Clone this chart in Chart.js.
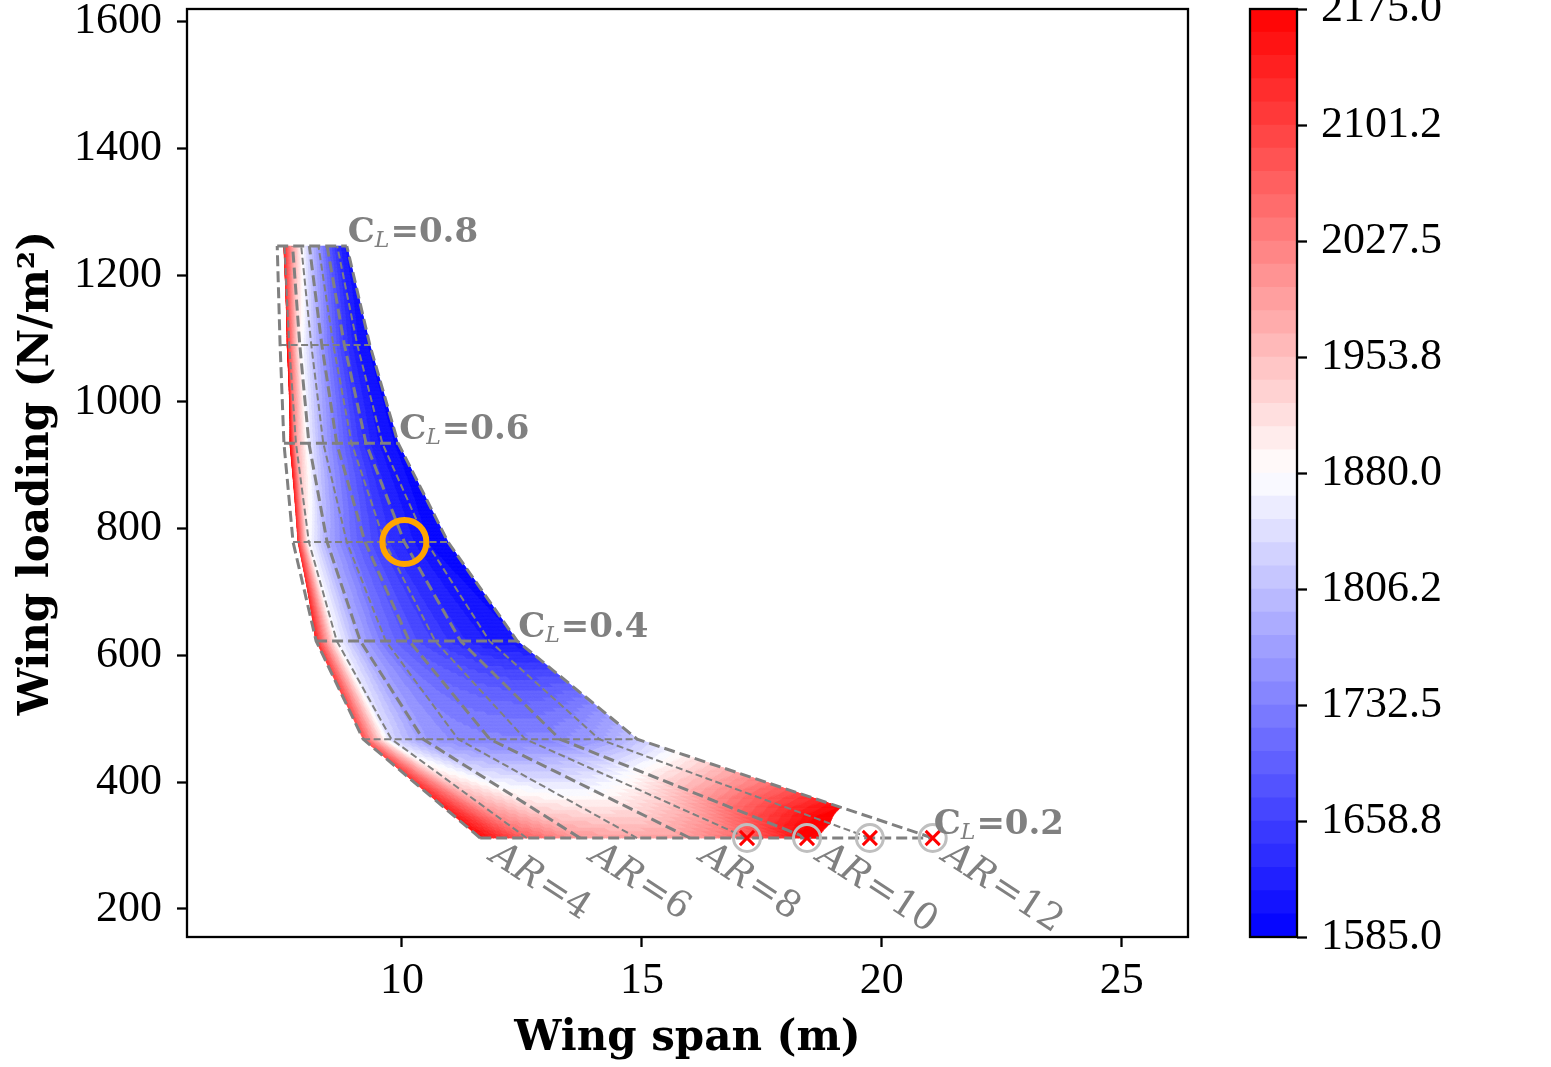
<!DOCTYPE html>
<html><head><meta charset="utf-8">
<script src="https://cdn.jsdelivr.net/npm/chart.js@4"></script>
<style>
html,body{margin:0;padding:0;background:#fff;}
#wrap{position:relative;width:1551px;height:1067px;overflow:hidden;}
#main{position:absolute;left:0;top:0;}
#cbar{position:absolute;left:1200px;top:0;}
</style></head><body>
<div id="wrap"><canvas id="main" width="1230" height="1067"></canvas><canvas id="cbar" width="351" height="1067"></canvas></div>
<script>
// ---------- data ----------
const aspectRatios = [4, 5, 6, 7, 8, 9, 10, 11, 12];
const liftCoefficients = [0.2, 0.3, 0.4, 0.5, 0.6, 0.7, 0.8];
const wingLoading = [312, 468, 623, 779, 935, 1090, 1246];   // N/m^2 per CL row

// wing span (m) at each (CL row, AR column)
const spanCL02 = [11.63, 12.60, 13.71, 14.90, 16.00, 17.19, 18.44, 19.75, 21.06];
const spanCL03 = [9.19, 9.78, 10.44, 11.17, 11.83, 12.57, 13.29, 14.11, 14.90];
const spanCL04 = [8.21, 8.64, 9.13, 9.66, 10.15, 10.69, 11.22, 11.82, 12.40];
const spanCL05 = [7.73, 8.06, 8.44, 8.85, 9.23, 9.64, 10.05, 10.51, 10.96];
const spanCL06 = [7.54, 7.79, 8.06, 8.36, 8.64, 8.95, 9.25, 9.59, 9.92];
const spanCL07 = [7.46, 7.65, 7.87, 8.11, 8.33, 8.57, 8.80, 9.07, 9.33];
const spanCL08 = [7.40, 7.55, 7.72, 7.90, 8.07, 8.26, 8.44, 8.65, 8.85];

// contoured quantity at each node
const valueCL02 = [2175, 2069, 2004, 1986, 1998, 2063, 2175, 2264, 2323];
const valueCL03 = [2087, 1832, 1765, 1742, 1736, 1736, 1742, 1770, 1815];
const valueCL04 = [2128, 1875, 1780, 1718, 1682, 1656, 1634, 1612, 1601];
const valueCL05 = [2234, 1880, 1786, 1727, 1685, 1650, 1626, 1600, 1591];
const valueCL06 = [2352, 1998, 1862, 1780, 1727, 1679, 1638, 1609, 1597];
const valueCL07 = [2529, 2087, 1892, 1821, 1762, 1703, 1656, 1615, 1597];
const valueCL08 = [2470, 2128, 1998, 1892, 1821, 1762, 1703, 1644, 1609];

// feasibility margin (negative = not filled)
const feasCL02 = [1, 1, 1, 1, 1, 1, 0.034, -0.176, -0.458];
const feasCL03 = [1, 1, 1, 1, 1, 1, 1, 1, 1];
const feasCL04 = [0.02, 1, 1, 1, 1, 1, 1, 1, 1];
const feasCL05 = [-0.45, 1, 1, 1, 1, 1, 1, 1, 1];
const feasCL06 = [-1.0, 1, 1, 1, 1, 1, 1, 1, 1];
const feasCL07 = [-3.5, 1, 1, 1, 1, 1, 1, 1, 1];
const feasCL08 = [-13, 1, 1, 1, 1, 1, 1, 1, 1];

const labelledCL = [0.2, 0.4, 0.6, 0.8];
const labelledAR = [4, 6, 8, 10, 12];
const flaggedAR = [9, 10, 11, 12];      // marked points on the CL=0.2 row
const flaggedCL = 0.2;
const selectedAR = 10, selectedCL = 0.5; // orange circle

const levelMin = 1585, levelMax = 2175, levelCount = 40;
const cbTickValues = [1585, 1658.75, 1732.5, 1806.25, 1880, 1953.75, 2027.5, 2101.25, 2175];
const cbTickLabels = ['1585.0', '1658.8', '1732.5', '1806.2', '1880.0', '1953.8', '2027.5', '2101.2', '2175.0'];
const xTicks = [10, 15, 20, 25];
const yTicks = [200, 400, 600, 800, 1000, 1200, 1400, 1600];

// ---------- derived ----------
const spanRows = [spanCL02, spanCL03, spanCL04, spanCL05, spanCL06, spanCL07, spanCL08];
const valueRows = [valueCL02, valueCL03, valueCL04, valueCL05, valueCL06, valueCL07, valueCL08];
const feasRows = [feasCL02, feasCL03, feasCL04, feasCL05, feasCL06, feasCL07, feasCL08];

function bwr(n) {
  let r, g, b;
  if (n < 0.5) { r = g = 2 * n; b = 1; } else { r = 1; g = b = 2 * (1 - n); }
  return 'rgb(' + Math.round(r * 255) + ',' + Math.round(g * 255) + ',' + Math.round(b * 255) + ')';
}
const levelStep = (levelMax - levelMin) / levelCount;
const bandColors = [];
for (let k = 0; k < levelCount; k++) bandColors.push(bwr((k + 0.5) / levelCount));

const GREY = '#808080';
const SERIF = "'Liberation Serif', 'Times New Roman', serif";
const DJS = "'DejaVu Serif', serif";

const contourPlugin = {
  id: 'contourFill',
  beforeDatasetsDraw(chart) {
    const { ctx, chartArea, scales: { x, y } } = chart;
    ctx.save();
    ctx.beginPath();
    ctx.rect(chartArea.left, chartArea.top, chartArea.width, chartArea.height);
    ctx.clip();
    ctx.lineWidth = 0.7;
    ctx.lineJoin = 'round';
    const R = liftCoefficients.length, C = aspectRatios.length;
    const P = (r, c) => [x.getPixelForValue(spanRows[r][c]), y.getPixelForValue(wingLoading[r])];
    for (let r = 0; r < R - 1; r++) {
      for (let c = 0; c < C - 1; c++) {
        const p00 = P(r, c), p10 = P(r, c + 1), p01 = P(r + 1, c), p11 = P(r + 1, c + 1);
        const v00 = valueRows[r][c], v10 = valueRows[r][c + 1], v01 = valueRows[r + 1][c], v11 = valueRows[r + 1][c + 1];
        const g00 = feasRows[r][c], g10 = feasRows[r][c + 1], g01 = feasRows[r + 1][c], g11 = feasRows[r + 1][c + 1];
        const gmin = Math.min(g00, g10, g01, g11), gmax = Math.max(g00, g10, g01, g11);
        if (gmax < 0) continue;
        const N = (gmin < 0) ? 110 : 28;
        const bl = (a00, a10, a01, a11, s, t) => (1 - s) * (1 - t) * a00 + s * (1 - t) * a10 + (1 - s) * t * a01 + s * t * a11;
        const pt = (s, t) => [bl(p00[0], p10[0], p01[0], p11[0], s, t), bl(p00[1], p10[1], p01[1], p11[1], s, t)];
        for (let a = 0; a < N; a++) {
          for (let b = 0; b < N; b++) {
            const s0 = a / N, s1 = (a + 1) / N, t0 = b / N, t1 = (b + 1) / N;
            const sc = (s0 + s1) / 2, tc = (t0 + t1) / 2;
            if (bl(g00, g10, g01, g11, sc, tc) < 0) continue;
            const v = bl(v00, v10, v01, v11, sc, tc);
            let k = Math.floor((v - levelMin) / levelStep);
            k = Math.max(0, Math.min(levelCount - 1, k));
            const q0 = pt(s0, t0), q1 = pt(s1, t0), q2 = pt(s1, t1), q3 = pt(s0, t1);
            ctx.beginPath();
            ctx.moveTo(q0[0], q0[1]); ctx.lineTo(q1[0], q1[1]); ctx.lineTo(q2[0], q2[1]); ctx.lineTo(q3[0], q3[1]);
            ctx.closePath();
            ctx.fillStyle = bandColors[k];
            ctx.strokeStyle = bandColors[k];
            ctx.fill();
            ctx.stroke();
          }
        }
      }
    }
    ctx.restore();
  }
};

const framePlugin = {
  id: 'frame',
  afterDraw(chart) {
    const { ctx, chartArea: a } = chart;
    ctx.save();
    ctx.strokeStyle = '#000';
    ctx.lineWidth = 2.3;
    ctx.strokeRect(a.left, a.top, a.right - a.left, a.bottom - a.top);
    ctx.restore();
  }
};

const labelPlugin = {
  id: 'gridLabels',
  afterDatasetsDraw(chart) {
    const { ctx, scales: { x, y } } = chart;
    ctx.save();
    ctx.fillStyle = GREY;
    ctx.textBaseline = 'alphabetic';
    ctx.textAlign = 'left';
    const last = aspectRatios.length - 1;
    labelledCL.forEach(cl => {
      const r = liftCoefficients.indexOf(cl);
      let px = x.getPixelForValue(spanRows[r][last]) + 1;
      const py = y.getPixelForValue(wingLoading[r]) - 4;
      ctx.font = 'bold 34px ' + DJS;
      ctx.fillText('C', px, py); px += ctx.measureText('C').width;
      ctx.font = 'italic 22px ' + DJS;
      ctx.fillText('L', px, py + 5); px += ctx.measureText('L').width + 1;
      ctx.font = 'bold 34px ' + DJS;
      ctx.fillText('=' + cl.toFixed(1), px, py);
    });
    labelledAR.forEach(ar => {
      const c = aspectRatios.indexOf(ar);
      const px = x.getPixelForValue(spanRows[0][c]) + 8;
      const py = y.getPixelForValue(wingLoading[0]) + 22;
      ctx.save();
      ctx.translate(px, py);
      ctx.rotate(33 * Math.PI / 180);
      ctx.font = 'italic 37px ' + DJS;
      ctx.fillText('AR', 0, 0);
      const w = ctx.measureText('AR').width;
      ctx.font = '37px ' + DJS;
      ctx.fillText('=' + ar, w + 2, 0);
      ctx.restore();
    });
    ctx.restore();
  }
};

// ---------- datasets ----------
const datasets = [];
const node = (ar, cl) => {
  const r = liftCoefficients.indexOf(cl), c = aspectRatios.indexOf(ar);
  return { x: spanRows[r][c], y: wingLoading[r] };
};
// markers (first = drawn on top)
datasets.push({
  data: [node(selectedAR, selectedCL)], pointStyle: 'circle', pointRadius: 22,
  borderColor: '#FFA500', backgroundColor: 'rgba(0,0,0,0)', borderWidth: 6, showLine: false
});
datasets.push({
  data: flaggedAR.map(ar => node(ar, flaggedCL)), pointStyle: 'crossRot', pointRadius: 10,
  borderColor: '#FF0000', backgroundColor: '#FF0000', borderWidth: 3, showLine: false
});
datasets.push({
  data: flaggedAR.map(ar => node(ar, flaggedCL)), pointStyle: 'circle', pointRadius: 13.5,
  borderColor: '#BFBFBF', backgroundColor: 'rgba(0,0,0,0)', borderWidth: 3, showLine: false
});
// AR lines
aspectRatios.forEach((ar, c) => {
  const thick = labelledAR.includes(ar);
  datasets.push({
    data: liftCoefficients.map((cl, r) => ({ x: spanRows[r][c], y: wingLoading[r] })),
    showLine: true, pointRadius: 0, borderColor: GREY,
    borderWidth: thick ? 3 : 2, borderDash: thick ? [11, 5] : [7, 3.5], tension: 0
  });
});
// CL lines
liftCoefficients.forEach((cl, r) => {
  const thick = labelledCL.includes(cl);
  datasets.push({
    data: aspectRatios.map((ar, c) => ({ x: spanRows[r][c], y: wingLoading[r] })),
    showLine: true, pointRadius: 0, borderColor: GREY,
    borderWidth: thick ? 3 : 2, borderDash: thick ? [11, 5] : [7, 3.5], tension: 0
  });
});

const tickGrid = { display: true, drawOnChartArea: false, drawTicks: true, tickLength: 10, tickWidth: 2.3, tickColor: '#000' };

new Chart(document.getElementById('main'), {
  type: 'scatter',
  data: { datasets },
  options: {
    responsive: false, animation: false, devicePixelRatio: 1, events: [],
    layout: { autoPadding: false, padding: { top: 9, right: 42, left: 0, bottom: 0 } },
    plugins: { legend: { display: false }, tooltip: { enabled: false } },
    scales: {
      x: {
        type: 'linear', min: 5.52, max: 26.38,
        afterBuildTicks: s => { s.ticks = xTicks.map(v => ({ value: v })); },
        afterFit: s => { s.height = 130; s.paddingLeft = 0; s.paddingRight = 0; },
        grid: tickGrid, border: { display: false },
        ticks: { font: { family: SERIF, size: 44 }, color: '#000', padding: 8, maxRotation: 0, autoSkip: false, callback: v => String(v) },
        title: { display: true, text: 'Wing span (m)', color: '#000', font: { family: DJS, size: 42, weight: 'bold' }, padding: { top: 0, bottom: 3 } }
      },
      y: {
        type: 'linear', min: 155.8, max: 1620,
        afterBuildTicks: s => { s.ticks = yTicks.map(v => ({ value: v })); },
        afterFit: s => { s.width = 187; s.paddingTop = 0; s.paddingBottom = 0; },
        grid: tickGrid, border: { display: false },
        ticks: { font: { family: SERIF, size: 44 }, color: '#000', padding: 15, autoSkip: false, callback: v => String(v) },
        title: { display: true, text: 'Wing loading (N/m²)', color: '#000', font: { family: DJS, size: 42, weight: 'bold' }, padding: { top: 12, bottom: 0 } }
      }
    }
  },
  plugins: [contourPlugin, labelPlugin, framePlugin]
});

// ---------- colorbar ----------
const cbDatasets = [];
for (let k = 0; k < levelCount; k++) {
  cbDatasets.push({
    data: [[levelMin + k * levelStep, levelMin + (k + 1) * levelStep]],
    backgroundColor: bandColors[k], borderWidth: 0, barPercentage: 1, categoryPercentage: 1
  });
}
new Chart(document.getElementById('cbar'), {
  type: 'bar',
  data: { labels: [''], datasets: cbDatasets },
  options: {
    responsive: false, animation: false, devicePixelRatio: 1, events: [],
    layout: { autoPadding: false, padding: { left: 50, top: 9, bottom: 130, right: 0 } },
    plugins: { legend: { display: false }, tooltip: { enabled: false } },
    scales: {
      x: { display: false, stacked: true },
      y: {
        position: 'right', min: levelMin, max: levelMax, stacked: false,
        afterBuildTicks: s => { s.ticks = cbTickValues.map(v => ({ value: v })); },
        afterFit: s => { s.width = 254; s.paddingTop = 0; s.paddingBottom = 0; },
        grid: tickGrid, border: { display: false },
        ticks: { font: { family: SERIF, size: 44 }, color: '#000', padding: 14, autoSkip: false, callback: (v, i) => cbTickLabels[i] }
      }
    }
  },
  plugins: [framePlugin]
});
</script>
</body></html>
